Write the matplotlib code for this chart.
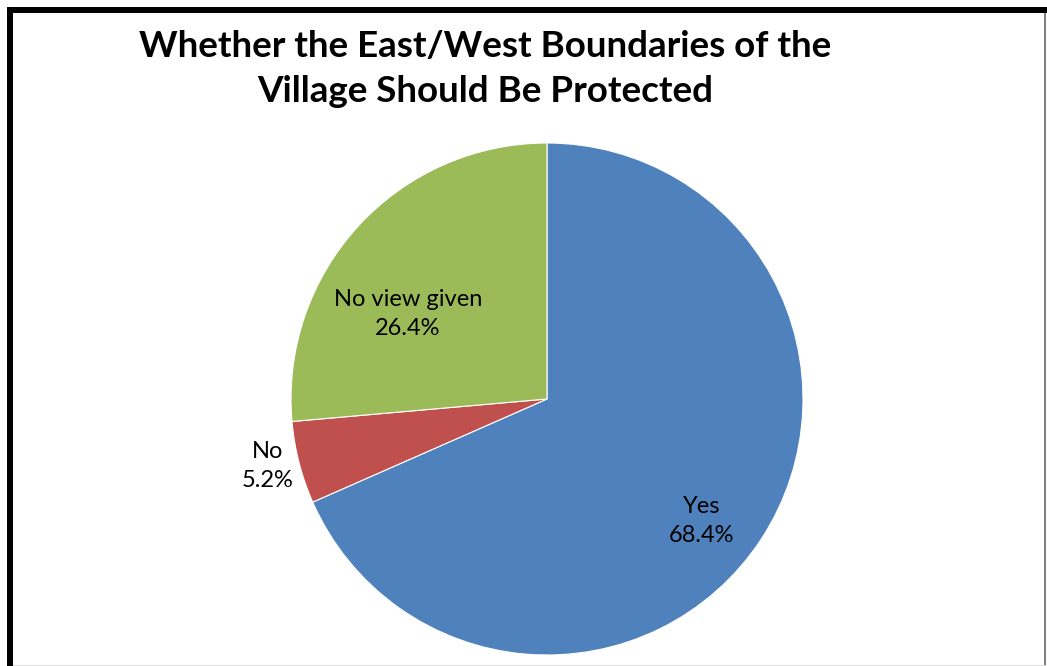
import matplotlib
matplotlib.use('Agg')
import matplotlib.pyplot as plt
from matplotlib.patches import Rectangle

# chart data
categories = ['Yes', 'No', 'No view given']
shares = [68.4, 5.2, 26.4]
colors = ['#4F81BD', '#C0504D', '#9BBB59']
title = 'Whether the East/West Boundaries of the\nVillage Should Be Protected'

W, H = 1047, 666
fig = plt.figure(figsize=(W / 100, H / 100), dpi=100)
fig.patch.set_facecolor('white')

# axes in pixel units (y measured from bottom)
ax = fig.add_axes([0, 0, 1, 1])
cx, cy, r = 547, H - 399, 256
wedges, _ = ax.pie(shares, colors=colors, startangle=90, counterclock=False,
                   center=(cx, cy), radius=r, frame=True,
                   wedgeprops={'edgecolor': 'white', 'linewidth': 0.8})
ax.set_xlim(0, W)
ax.set_ylim(0, H)
ax.set_aspect('equal')
ax.axis('off')

# slice labels (positions in pixels, as in the reference)
label_pos = {'Yes': (702, 521), 'No': (268, 466), 'No view given': (408, 314)}
for cat, val in zip(categories, shares):
    x, y = label_pos[cat]
    ax.text(x, H - y, f'{cat}\n{val}%', ha='center', va='center',
            fontsize=17, family='Lato', linespacing=1.5, color='black')

fig.text(485 / W, 1 - 69 / H, title, ha='center', va='center',
         fontsize=26.5, fontweight='bold', family='Lato', linespacing=1.45)

# frame around the chart
fig.patches.append(Rectangle((7 / W, 1 - 13 / H), 1, 6 / H, transform=fig.transFigure,
                             facecolor='black', edgecolor='none'))
fig.patches.append(Rectangle((7 / W, 0), 6 / W, 1 - 7 / H, transform=fig.transFigure,
                             facecolor='black', edgecolor='none'))
fig.patches.append(Rectangle((1044 / W, 0), 2 / W, 1 - 13 / H, transform=fig.transFigure,
                             facecolor='#808080', edgecolor='none'))
fig.patches.append(Rectangle((13 / W, 0), 1, 1.5 / H, transform=fig.transFigure,
                             facecolor='#DDDDDD', edgecolor='none'))

fig.savefig('out.png', dpi=100)
plt.close()
